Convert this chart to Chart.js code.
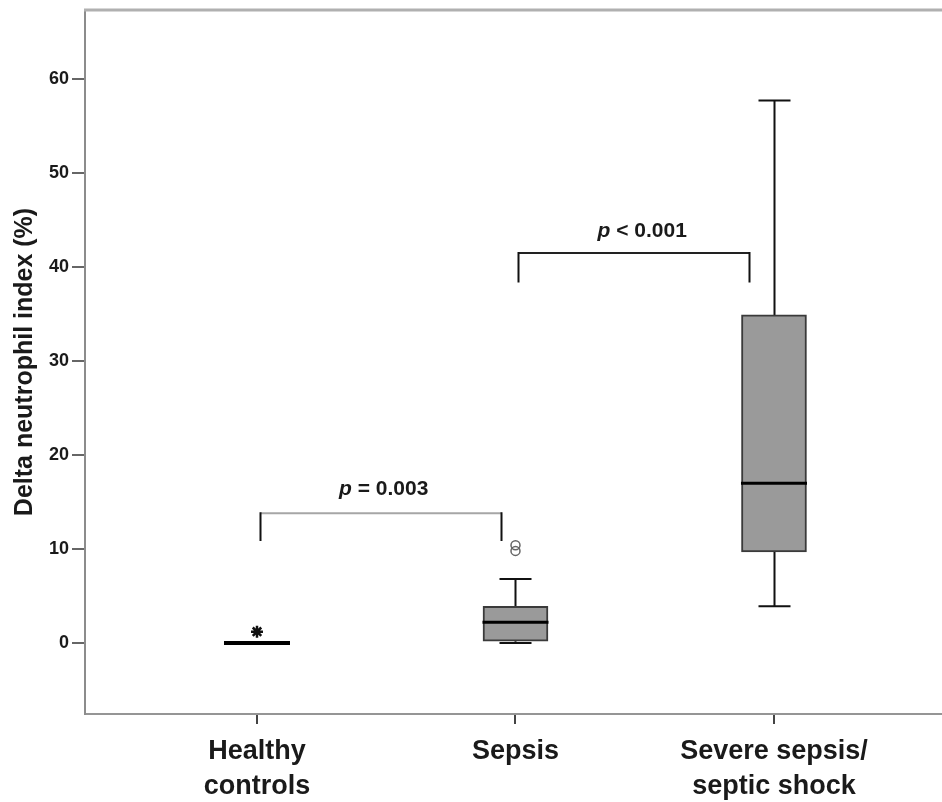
<!DOCTYPE html>
<html>
<head>
<meta charset="utf-8">
<script src="https://cdn.jsdelivr.net/npm/chart.js@4/dist/chart.umd.min.js"></script>
<style>
  html, body { margin: 0; padding: 0; background: #fff; overflow: hidden; }
  #wrap { width: 942px; height: 802px; }
  #boxChart { display: block; }
</style>
</head>
<body>
<div id="wrap"><canvas id="boxChart" width="942" height="802"></canvas></div>
<script>
// ==========================================
// 1. DATA
// ==========================================
const categories = [['Healthy', 'controls'], 'Sepsis', ['Severe sepsis/', 'septic shock']];
const groupPos = [0, 1, 2];

// box plot summary per group (Delta neutrophil index, %)
const whiskerMin = [0, 0, 3.9];
const boxQ1 = [0, 0.2, 9.7];
const boxMedian = [0, 2.2, 17.0];
const boxQ3 = [0.1, 3.9, 34.9];
const whiskerMax = [0.1, 6.8, 57.7];

// extreme value (*) and outliers (o)
const extremeX = [0];
const extremeY = [1.2];
const outlierX = [1, 1];
const outlierY = [10.4, 9.8];

const yTicks = [0, 10, 20, 30, 40, 50, 60];

// significance brackets
const bracketFrom = [0.01, 1.01];
const bracketTo = [0.945, 1.905];
const bracketTop = [13.8, 41.5];
const bracketLegEnd = [10.85, 38.35];
const bracketText = ['= 0.003', '< 0.001'];
const bracketTextX = [0.49, 1.49];
const bracketTextY = [15.7, 43.2];

const FONT = '"Liberation Sans", Arial, sans-serif';

// ==========================================
// 2. PLUGIN: whiskers, medians, brackets, frame
// ==========================================
const boxExtras = {
    id: 'boxExtras',
    beforeDatasetsDraw(chart) {
        const { ctx, scales: { x, y } } = chart;
        ctx.save();
        ctx.strokeStyle = '#111';
        ctx.lineWidth = 2;
        groupPos.forEach((g, i) => {
            const cx = Math.round(x.getPixelForValue(g)) + 0.5;
            const segs = [[boxQ3[i], whiskerMax[i]], [boxQ1[i], whiskerMin[i]]];
            segs.forEach(([from, to]) => {
                if (from === to) return;
                const y0 = y.getPixelForValue(from);
                const y1 = y.getPixelForValue(to);
                ctx.beginPath();
                ctx.moveTo(cx, y0);
                ctx.lineTo(cx, y1);
                ctx.moveTo(cx - 16, y1);
                ctx.lineTo(cx + 16, y1);
                ctx.stroke();
            });
        });
        ctx.restore();
    },
    afterDatasetsDraw(chart) {
        const { ctx, chartArea, scales: { x, y } } = chart;
        ctx.save();

        // median lines
        ctx.strokeStyle = '#000';
        groupPos.forEach((g, i) => {
            const cx = x.getPixelForValue(g);
            const my = y.getPixelForValue(boxMedian[i]);
            // collapsed box (all quartiles equal) shows as a heavier bar
            ctx.lineWidth = boxQ3[i] - boxQ1[i] < 0.5 ? 4 : 3;
            ctx.beginPath();
            ctx.moveTo(cx - 33, my);
            ctx.lineTo(cx + 33, my);
            ctx.stroke();
        });

        // brackets
        bracketFrom.forEach((b, i) => {
            const x0 = Math.round(x.getPixelForValue(b)) + 0.5;
            const x1 = Math.round(x.getPixelForValue(bracketTo[i])) + 0.5;
            const yt = y.getPixelForValue(bracketTop[i]);
            const yl = y.getPixelForValue(bracketLegEnd[i]);
            ctx.lineWidth = 2;
            ctx.strokeStyle = i === 0 ? '#a6a6a6' : '#222';
            ctx.beginPath();
            ctx.moveTo(x0, yt);
            ctx.lineTo(x1, yt);
            ctx.stroke();
            ctx.strokeStyle = '#111';
            ctx.beginPath();
            ctx.moveTo(x0, yt - 1);
            ctx.lineTo(x0, yl);
            ctx.moveTo(x1, yt - 1);
            ctx.lineTo(x1, yl);
            ctx.stroke();

            // "p = ..." label, italic p
            const italic = 'italic bold 21px ' + FONT;
            const plain = 'bold 21px ' + FONT;
            ctx.font = italic;
            const wp = ctx.measureText('p ').width;
            ctx.font = plain;
            const wr = ctx.measureText(bracketText[i]).width;
            const left = x.getPixelForValue(bracketTextX[i]) - (wp + wr) / 2;
            const base = y.getPixelForValue(bracketTextY[i]);
            ctx.fillStyle = '#1a1a1a';
            ctx.textBaseline = 'alphabetic';
            ctx.textAlign = 'left';
            ctx.font = italic;
            ctx.fillText('p', left, base);
            ctx.font = plain;
            ctx.fillText(bracketText[i], left + wp, base);
        });

        // top frame line
        ctx.strokeStyle = '#b0b0b0';
        ctx.lineWidth = 3;
        ctx.beginPath();
        ctx.moveTo(chartArea.left - 1, chartArea.top);
        ctx.lineTo(chartArea.right, chartArea.top);
        ctx.stroke();
        ctx.restore();
    }
};

// ==========================================
// 3. CHART
// ==========================================
const ctx = document.getElementById('boxChart').getContext('2d');

const boxChart = new Chart(ctx, {
    type: 'bar',
    data: {
        datasets: [
            {
                type: 'scatter',
                data: extremeX.map((v, i) => ({ x: v, y: extremeY[i] })),
                pointStyle: 'star',
                radius: 6,
                borderColor: '#111',
                borderWidth: 2.5,
                backgroundColor: '#111'
            },
            {
                type: 'scatter',
                data: outlierX.map((v, i) => ({ x: v, y: outlierY[i] })),
                pointStyle: 'circle',
                radius: 4.5,
                borderColor: '#666',
                borderWidth: 1.5,
                backgroundColor: 'rgba(0,0,0,0)'
            },
            {
                type: 'bar',
                data: groupPos.map((g, i) => ({ x: g, y: [boxQ1[i], boxQ3[i]] })),
                backgroundColor: '#9a9a9a',
                borderColor: '#3a3a3a',
                borderWidth: 2,
                borderSkipped: false,
                barThickness: 65
            }
        ]
    },
    options: {
        responsive: false,
        animation: false,
        layout: { autoPadding: false, padding: { left: 0, top: 10, right: 0, bottom: 0 } },
        plugins: { legend: { display: false }, tooltip: { enabled: false } },
        scales: {
            x: {
                type: 'linear',
                min: -0.6654,
                max: 2.65,
                offset: false,
                afterBuildTicks: (scale) => { scale.ticks = groupPos.map(v => ({ value: v })); },
                afterFit: (scale) => {
                    scale.height = 88;
                    scale.paddingLeft = 0;
                    scale.paddingRight = 0;
                },
                ticks: {
                    callback: (v) => categories[v],
                    autoSkip: false,
                    maxRotation: 0,
                    padding: 10,
                    color: '#1a1a1a',
                    font: { family: FONT, size: 27, weight: 'bold', lineHeight: 1.3 }
                },
                grid: { offset: false, drawOnChartArea: false, tickLength: 10, color: '#444', lineWidth: 2 },
                border: { display: true, color: '#959595', width: 2 }
            },
            y: {
                min: -7.55,
                max: 67.34,
                afterBuildTicks: (scale) => { scale.ticks = yTicks.map(v => ({ value: v })); },
                afterFit: (scale) => {
                    scale.width = 85;
                    scale.paddingTop = 0;
                    scale.paddingBottom = 0;
                },
                ticks: {
                    padding: 3,
                    color: '#1a1a1a',
                    font: { family: FONT, size: 18, weight: 'bold' }
                },
                grid: { drawOnChartArea: false, tickLength: 13, color: '#666', lineWidth: 2 },
                border: { display: true, color: '#8c8c8c', width: 2 },
                title: {
                    display: true,
                    text: 'Delta neutrophil index (%)',
                    color: '#1a1a1a',
                    font: { family: FONT, size: 25, weight: 'bold' },
                    padding: { top: 10, bottom: 0 }
                }
            }
        }
    },
    plugins: [boxExtras]
});
</script>
</body>
</html>
